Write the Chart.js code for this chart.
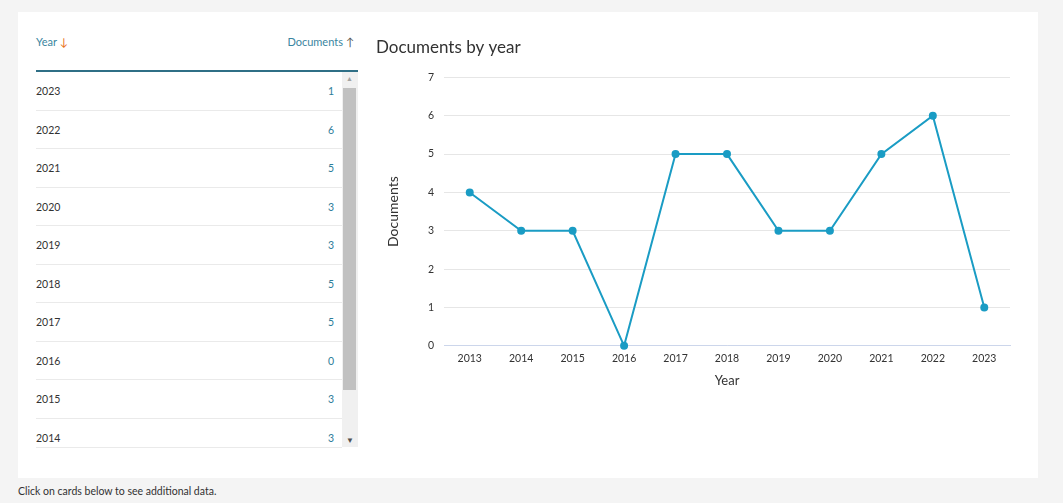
<!DOCTYPE html>
<html><head><meta charset="utf-8">
<script src="https://cdn.jsdelivr.net/npm/chart.js@4"></script>
<style>
html,body{margin:0;padding:0;}
body{width:1063px;height:503px;background:#f4f4f4;position:relative;overflow:hidden;font-family:Lato,"Open Sans",sans-serif;}
#card{position:absolute;left:18px;top:12px;width:1020px;height:466px;background:#fff;}
#tbl{position:absolute;left:36px;top:30px;width:322px;}
#hdr{position:absolute;left:0;top:0;width:322px;height:40px;border-bottom:2px solid #2f6f86;font-size:11px;color:#3a85a0;}
#hdr .y{position:absolute;left:0;top:5px;}
#hdr .d{position:absolute;right:4px;top:5px;}
.arr{color:#e9711c;}
.arr2{color:#555;}
#rows{position:absolute;left:0;top:42px;width:306px;height:375px;overflow:hidden;border-bottom:1px solid #eaeaea;}
.row{height:38.5px;border-bottom:1px solid #eaeaea;position:relative;font-size:10.5px;color:#323232;box-sizing:border-box;}
.row .y{position:absolute;left:0;top:13px;}
.row .n{position:absolute;right:8px;top:13px;color:#2e7d9a;}
#sb{position:absolute;left:306px;top:42px;width:16px;height:375px;background:#f0f0f0;}
#thumb{position:absolute;left:1px;top:16px;width:13px;height:302px;background:#c1c1c1;}
#sb .up{position:absolute;left:4px;top:2px;font-size:7px;color:#a3a3a3;}
#sb .dn{position:absolute;left:4px;bottom:2px;font-size:8px;color:#505050;}
#foot{position:absolute;left:18px;top:485px;font-size:10.5px;color:#323232;}
#cw{position:absolute;left:376px;top:37px;width:640px;height:352px;}
</style></head><body>
<div id="card"></div>
<div id="tbl">
 <div id="hdr"><span class="y">Year <span class="arr">&#8595;</span></span><span class="d">Documents <span class="arr2">&#8593;</span></span></div>
 <div id="rows"></div>
 <div id="sb"><div class="up">&#9650;</div><div id="thumb"></div><div class="dn">&#9660;</div></div>
</div>
<div id="foot">Click on cards below to see additional data.</div>
<div id="cw"><canvas id="c"></canvas></div>
<script>
const years = ["2013","2014","2015","2016","2017","2018","2019","2020","2021","2022","2023"];
const documents = [4,3,3,0,5,5,3,3,5,6,1];
const tableYears = ["2023","2022","2021","2020","2019","2018","2017","2016","2015","2014"];
const tableDocs = [1,6,5,3,3,5,5,0,3,3];
const yTicks = [0,1,2,3,4,5,6,7];

const rows = document.getElementById('rows');
tableYears.forEach((y,i)=>{
  const r=document.createElement('div');r.className='row';
  r.innerHTML='<span class="y">'+y+'</span><span class="n">'+tableDocs[i]+'</span>';
  rows.appendChild(r);
});

new Chart(document.getElementById('c'),{
  type:'line',
  data:{labels:years,datasets:[{data:documents,borderColor:'#1a9cc4',backgroundColor:'#1a9cc4',borderWidth:2,pointRadius:3,pointHoverRadius:3,tension:0,clip:false}]},
  options:{
    responsive:true,maintainAspectRatio:false,animation:false,
    layout:{padding:{left:0,right:6,top:0,bottom:0}},
    plugins:{legend:{display:false},tooltip:{enabled:false},
      title:{display:true,text:'Documents by year',align:'start',color:'#323232',font:{family:'Lato',size:17,weight:'normal'},padding:{top:0,bottom:20}}},
    scales:{
      x:{offset:true,grid:{display:false,drawTicks:false},border:{color:'#ccd6eb'},
         ticks:{color:'#333',font:{family:'Lato',size:10.5},padding:7,maxRotation:0},
         title:{display:true,text:'Year',color:'#333',font:{family:'Lato',size:13},padding:{top:1,bottom:0}}},
      y:{min:0,max:7,afterBuildTicks:(ax)=>{ax.ticks=yTicks.map(v=>({value:v}));},
         afterFit:(ax)=>{ax.width=68;},
         grid:{color:'#e6e6e6',drawTicks:false},border:{display:false},
         ticks:{color:'#333',font:{family:'Lato',size:10.5},padding:10},
         title:{display:true,text:'Documents',color:'#333',font:{family:'Lato',size:14},padding:{top:9,bottom:0}}}
    }
  }
});
</script>
</body></html>
